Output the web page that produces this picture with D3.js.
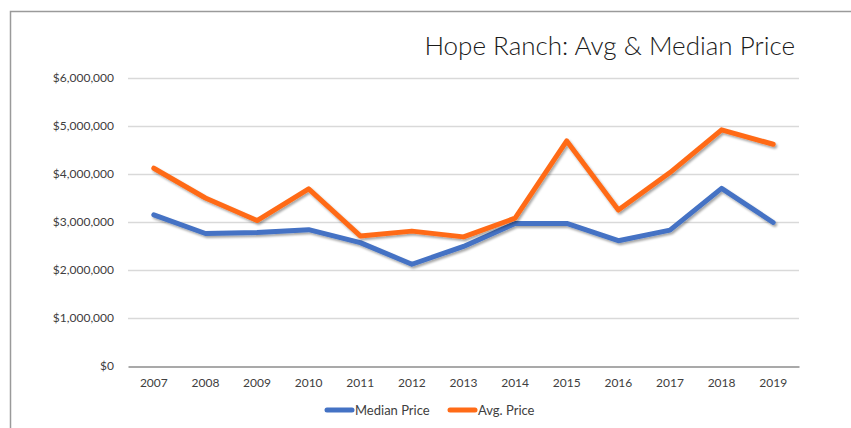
<!DOCTYPE html>
<html>
<head>
<meta charset="utf-8">
<script src="https://cdn.jsdelivr.net/npm/d3@7"></script>
<style>
  body { margin: 0; background: #fff; }
  text { font-family: "Lato", "Open Sans", sans-serif; }
</style>
</head>
<body>
<script>
    //Declare consts
        const width = 851;
        const height = 428;
        const margin = {top: 78, right: 52, bottom: 62, left: 128};

    //Data
        const years = ["2007","2008","2009","2010","2011","2012","2013","2014","2015","2016","2017","2018","2019"];
        const medianPrice = [3150000, 2760000, 2780000, 2840000, 2570000, 2120000, 2490000, 2970000, 2970000, 2610000, 2830000, 3700000, 2990000];
        const avgPrice = [4120000, 3500000, 3030000, 3690000, 2710000, 2810000, 2690000, 3080000, 4690000, 3250000, 4030000, 4920000, 4620000];
        const yTicks = [0, 1000000, 2000000, 3000000, 4000000, 5000000, 6000000];
        const seriesNames = ["Median Price", "Avg. Price"];
        const seriesColors = ["#4472C4", "#FF6B17"];

    //SVG
        const svg = d3.select("body")
                    .append("svg")
                    .attr("width", width)
                    .attr("height", height);

        // drop shadow like the spreadsheet lines
        const defs = svg.append("defs");
        defs.append("filter")
            .attr("id", "shadow")
            .attr("x", "-10%").attr("y", "-10%")
            .attr("width", "120%").attr("height", "130%")
            .append("feDropShadow")
            .attr("dx", 1.5).attr("dy", 2)
            .attr("stdDeviation", 1.3)
            .attr("flood-color", "#000")
            .attr("flood-opacity", 0.35);

        // outer frame (only top and left visible)
        svg.append("path")
            .attr("d", `M10.5,${height} L10.5,11.5 L${width},11.5`)
            .attr("fill", "none")
            .attr("stroke", "#9a9a9a")
            .attr("stroke-width", 1.5);

    //Scales
        const xScale = d3.scaleBand()
                        .domain(years)
                        .range([margin.left, width - margin.right]);

        const yScale = d3.scaleLinear()
                        .domain([0, 6000000])
                        .range([height - margin.bottom, margin.top]);

    //Gridlines
        svg.append("g")
            .selectAll("line")
            .data(yTicks.slice(1))
            .enter()
            .append("line")
            .attr("x1", margin.left)
            .attr("x2", width - margin.right)
            .attr("y1", d => Math.round(yScale(d)) + 0.5)
            .attr("y2", d => Math.round(yScale(d)) + 0.5)
            .attr("stroke", "#d9d9d9")
            .attr("stroke-width", 1.3);

    //Axes
        const bottomAxis = d3.axisBottom(xScale).tickSize(0).tickPadding(12);
        const leftAxis = d3.axisLeft(yScale)
                           .tickValues(yTicks)
                           .tickSize(0)
                           .tickPadding(14)
                           .tickFormat(d => "$" + d3.format(",")(d));

        const gx = svg.append("g")
            .attr("transform", "translate(0," + (Math.round(yScale(0)) + 0.5) + ")")
            .call(bottomAxis);
        gx.select(".domain").attr("stroke", "#8c8c8c").attr("stroke-width", 1.3);
        gx.selectAll("text").attr("font-size", 12).attr("fill", "#404040");

        const gy = svg.append("g")
            .attr("transform", "translate(" + margin.left + ",0)")
            .call(leftAxis);
        gy.select(".domain").remove();
        gy.selectAll("text").attr("font-size", 12).attr("fill", "#404040");

    //Lines
        const line = d3.line()
                       .x((d, i) => xScale(years[i]) + xScale.bandwidth() / 2)
                       .y(d => yScale(d));

        [medianPrice, avgPrice].forEach((values, k) => {
            svg.append("path")
                .datum(values)
                .attr("d", line)
                .attr("fill", "none")
                .attr("stroke", seriesColors[k])
                .attr("stroke-width", 5)
                .attr("stroke-linejoin", "round")
                .attr("stroke-linecap", "round")
                .attr("filter", "url(#shadow)");
        });

    //Title
        svg.append("text")
            .attr("x", width - 56)
            .attr("y", 55)
            .attr("text-anchor", "end")
            .attr("font-size", 26)
            .attr("font-weight", 300)
            .attr("fill", "#1a1a1a")
            .text("Hope Ranch: Avg & Median Price");

    //Legend
        const legendX = [325, 448];
        const legend = svg.append("g");
        seriesNames.forEach((name, k) => {
            legend.append("line")
                .attr("x1", legendX[k] + 2)
                .attr("x2", legendX[k] + 27)
                .attr("y1", 410)
                .attr("y2", 410)
                .attr("stroke", seriesColors[k])
                .attr("stroke-width", 5)
                .attr("stroke-linecap", "round");
            legend.append("text")
                .attr("x", legendX[k] + 30)
                .attr("y", 414.5)
                .attr("font-size", 13)
                .attr("fill", "#404040")
                .text(name);
        });
</script>
</body>
</html>
